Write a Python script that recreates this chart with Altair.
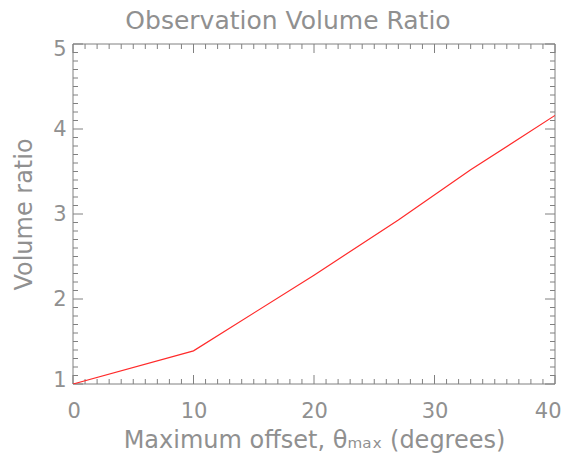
import altair as alt
import pandas as pd

# data
offset_deg = [0, 10, 20, 27, 33, 40]
volume_ratio = [1.00, 1.39, 2.28, 2.93, 3.52, 4.16]

# axis tick values
x_major = [0, 10, 20, 30, 40]
x_minor = [v for v in range(0, 41) if v % 10 != 0]
y_major = [1, 2, 3, 4, 5]
y_minor = [round(1 + i * 0.1, 1) for i in range(41) if i % 10 != 0]

W, H = 482, 340
FONT = "DejaVu Sans"
GRAY = "#808080"
TXT = "#909090"

xs = alt.Scale(domain=[0, 40], nice=False, zero=False)
ys = alt.Scale(domain=[1, 5], nice=False, zero=False)

df = pd.DataFrame({"x": offset_deg, "y": volume_ratio})

line = alt.Chart(df).mark_line(color="#ff2a2a", strokeWidth=1.2, clip=True).encode(
    x=alt.X("x:Q", scale=xs,
            axis=alt.Axis(values=x_major, format="d", ticks=False, domain=False, grid=False,
                          labelFlush=True, labelFlushOffset=6, labelPadding=16,
                          title="Maximum offset, θₘₐₓ (degrees)", titlePadding=7,
                          titleFontSize=24)),
    y=alt.Y("y:Q", scale=ys,
            axis=alt.Axis(values=y_major, format="d", ticks=False, domain=False, grid=False,
                          labelFlush=True, labelFlushOffset=6, labelPadding=7,
                          title="Volume ratio", titlePadding=16, titleFontSize=24)),
)

frame = alt.Chart(pd.DataFrame({"a": [0]})).mark_rect(
    fill=None, stroke=GRAY, strokeWidth=1
).encode(x=alt.value(0), x2=alt.value(W), y=alt.value(0), y2=alt.value(H))


def xticks(vals, length):
    d = pd.DataFrame({"x": vals})
    bottom = alt.Chart(d).mark_rule(color=GRAY, strokeWidth=1).encode(
        x=alt.X("x:Q", scale=xs), y=alt.value(H), y2=alt.value(H - length))
    top = alt.Chart(d).mark_rule(color=GRAY, strokeWidth=1).encode(
        x=alt.X("x:Q", scale=xs), y=alt.value(0), y2=alt.value(length))
    return [bottom, top]


def yticks(vals, length):
    d = pd.DataFrame({"y": vals})
    left = alt.Chart(d).mark_rule(color=GRAY, strokeWidth=1).encode(
        y=alt.Y("y:Q", scale=ys), x=alt.value(0), x2=alt.value(length))
    right = alt.Chart(d).mark_rule(color=GRAY, strokeWidth=1).encode(
        y=alt.Y("y:Q", scale=ys), x=alt.value(W), x2=alt.value(W - length))
    return [left, right]


layers = [frame] + xticks(x_major, 9) + xticks(x_minor, 5) + yticks(y_major, 10) + yticks(y_minor, 5) + [line]

chart = alt.layer(*layers).properties(
    width=W, height=H,
    background="white",
    title=alt.Title("Observation Volume Ratio", fontSize=25, font=FONT, fontWeight="normal",
                    color=TXT, anchor="middle", frame="group", offset=4, dx=-26),
    autosize=alt.AutoSizeParams(type="none"),
    padding={"left": 65, "top": 36, "right": 8, "bottom": 70},
).configure_view(stroke=None).configure_axis(
    labelFont=FONT, labelFontSize=21, labelColor=TXT, labelFontWeight="normal",
    titleFont=FONT, titleColor=TXT, titleFontWeight="normal",
    grid=False,
)

chart.save("out.html", embed_options={"renderer": "svg", "actions": False})
